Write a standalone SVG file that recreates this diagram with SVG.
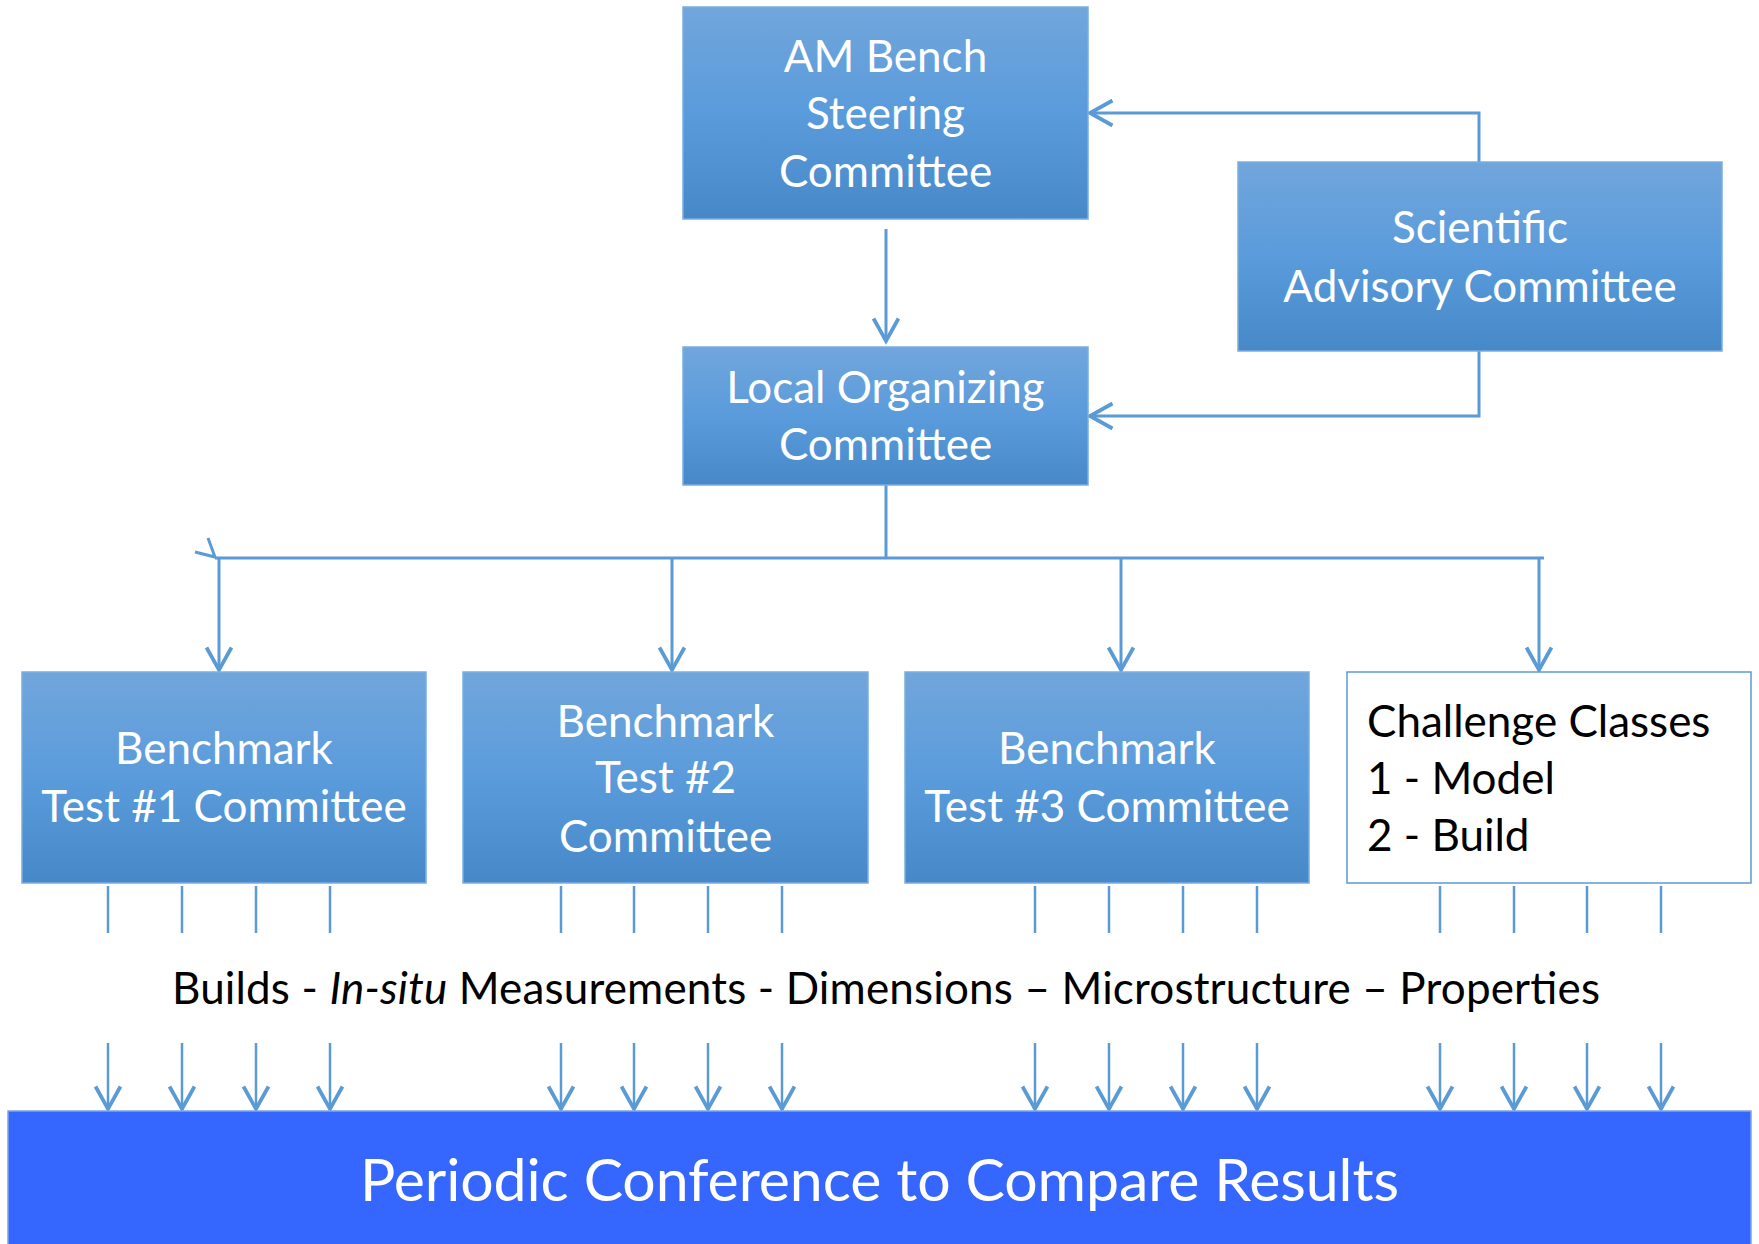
<svg xmlns="http://www.w3.org/2000/svg" width="1759" height="1244" viewBox="0 0 1759 1244">
<defs>
<linearGradient id="g" x1="0" y1="0" x2="0" y2="1">
<stop offset="0" stop-color="#71A6DC"/>
<stop offset="0.5" stop-color="#5A9BDB"/>
<stop offset="1" stop-color="#4788C9"/>
</linearGradient>
<marker id="ah" markerUnits="userSpaceOnUse" markerWidth="30" markerHeight="30" viewBox="-20 -12 24 24" refX="0" refY="0" orient="auto">
<path d="M-18,-10 L0,0 L-18,10" fill="none" stroke="#5B9BD5" stroke-width="3"/>
</marker>
<style>
.box{fill:url(#g);stroke:#7AAEE0;stroke-width:1.5}
.wt{font-family:Lato,"Open Sans",sans-serif;font-size:44px;fill:#FFFFFF;text-anchor:middle}
.bt{font-family:Lato,"Open Sans",sans-serif;font-size:44px;fill:#000000}
.c{fill:none;stroke:#5B9BD5;stroke-width:3}
.t{fill:none;stroke:#5B9BD5;stroke-width:2.5}
.a{fill:none;stroke:#5B9BD5;stroke-width:2.5;marker-end:url(#ah)}
</style>
</defs>
<rect width="1759" height="1244" fill="#FFFFFF"/>

<g id="connectors">
<path class="c" d="M1479,162 V113 H1090" marker-end="url(#ah)"/>
<path class="c" d="M1479,351 V416 H1090" marker-end="url(#ah)"/>
<path class="c" d="M886,229 V341" marker-end="url(#ah)"/>
<path class="c" d="M886,485 V558"/>
<path class="c" d="M215,558 H1544"/>
<path class="c" d="M208,538 L215,557 L195,552"/>
<path class="c" d="M219,558 V670" marker-end="url(#ah)"/>
<path class="c" d="M672,558 V670" marker-end="url(#ah)"/>
<path class="c" d="M1121,558 V670" marker-end="url(#ah)"/>
<path class="c" d="M1539,558 V670" marker-end="url(#ah)"/>
<g id="ticks">
<path class="t" d="M108,886 V933 M182,886 V933 M256,886 V933 M330,886 V933 M561,886 V933 M634,886 V933 M708,886 V933 M782,886 V933 M1035,886 V933 M1109,886 V933 M1183,886 V933 M1257,886 V933 M1440,886 V933 M1514,886 V933 M1587,886 V933 M1661,886 V933"/>
</g>
<g id="arrows">
<path class="a" d="M108,1043 V1109"/>
<path class="a" d="M182,1043 V1109"/>
<path class="a" d="M256,1043 V1109"/>
<path class="a" d="M330,1043 V1109"/>
<path class="a" d="M561,1043 V1109"/>
<path class="a" d="M634,1043 V1109"/>
<path class="a" d="M708,1043 V1109"/>
<path class="a" d="M782,1043 V1109"/>
<path class="a" d="M1035,1043 V1109"/>
<path class="a" d="M1109,1043 V1109"/>
<path class="a" d="M1183,1043 V1109"/>
<path class="a" d="M1257,1043 V1109"/>
<path class="a" d="M1440,1043 V1109"/>
<path class="a" d="M1514,1043 V1109"/>
<path class="a" d="M1587,1043 V1109"/>
<path class="a" d="M1661,1043 V1109"/>
</g>
</g>

<g id="steering">
<rect class="box" x="683" y="7" width="405" height="212"/>
<text class="wt" x="885.5" y="72">AM Bench</text>
<text class="wt" x="885.5" y="129">Steering</text>
<text class="wt" x="885.5" y="187">Committee</text>
</g>

<g id="scientific">
<rect class="box" x="1238" y="162" width="484" height="189"/>
<text class="wt" x="1480" y="243">Scientific</text>
<text class="wt" x="1480" y="302">Advisory Committee</text>
</g>

<g id="local">
<rect class="box" x="683" y="347" width="405" height="138"/>
<text class="wt" x="885.5" y="403">Local Organizing</text>
<text class="wt" x="885.5" y="460">Committee</text>
</g>

<g id="bench1">
<rect class="box" x="22" y="672" width="404" height="211"/>
<text class="wt" x="224" y="764">Benchmark</text>
<text class="wt" x="224" y="822">Test #1 Committee</text>
</g>

<g id="bench2">
<rect class="box" x="463" y="672" width="405" height="211"/>
<text class="wt" x="665.5" y="737">Benchmark</text>
<text class="wt" x="665.5" y="793">Test #2</text>
<text class="wt" x="665.5" y="852">Committee</text>
</g>

<g id="bench3">
<rect class="box" x="905" y="672" width="404" height="211"/>
<text class="wt" x="1107" y="764">Benchmark</text>
<text class="wt" x="1107" y="822">Test #3 Committee</text>
</g>

<g id="challenge">
<rect x="1347" y="672" width="404" height="211" fill="#FFFFFF" stroke="#5B9BD5" stroke-width="1.5"/>
<text class="bt" x="1367" y="737">Challenge Classes</text>
<text class="bt" x="1367" y="794">1 - Model</text>
<text class="bt" x="1367" y="851">2 - Build</text>
</g>

<g id="label">
<text class="bt" x="172" y="1004" font-size="45" textLength="1428" lengthAdjust="spacing">Builds - <tspan font-style="italic">In-situ</tspan> Measurements - Dimensions – Microstructure – Properties</text>
</g>

<g id="conference">
<rect x="8" y="1111" width="1743" height="140" fill="#3567FF" stroke="#7BA5E6" stroke-width="1.5"/>
<text x="879.5" y="1201" font-family="Lato,'Open Sans',sans-serif" font-size="59" fill="#FFFFFF" text-anchor="middle" textLength="1039" lengthAdjust="spacing">Periodic Conference to Compare Results</text>
</g>
</svg>
